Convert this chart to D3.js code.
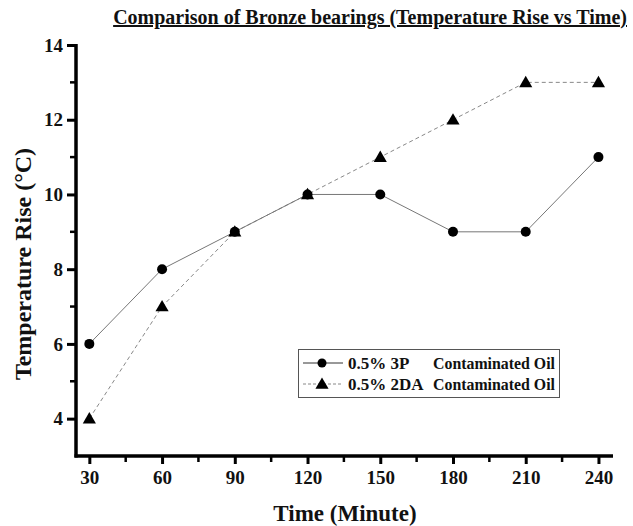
<!DOCTYPE html>
<html>
<head>
<meta charset="utf-8">
<script src="https://cdn.jsdelivr.net/npm/d3@7"></script>
<style>
  body { margin: 0; background: #fff; }
  .lbl { font-family: "Liberation Serif", "Times New Roman", serif; font-weight: bold; fill: #111; }
  .axis path { stroke: #000; stroke-width: 3.5px; }
  .axis line { stroke: #000; stroke-width: 3px; }
  .axis text { font-family: "Liberation Serif", serif; font-weight: bold; font-size: 19px; fill: #111; }
  .minor { stroke: #000; stroke-width: 2.5px; }
</style>
</head>
<body>
<svg id="chart" width="633" height="526"></svg>
<script>
// data
var times = [30, 60, 90, 120, 150, 180, 210, 240];
var oil3P = [6, 8, 9, 10, 10, 9, 9, 11];
var oil2DA = [4, 7, 9, 10, 11, 12, 13, 13];
var yTicks = [4, 6, 8, 10, 12, 14];
var legendNames = ["0.5% 3P", "0.5% 2DA"];

var svg = d3.select("#chart");

var x = d3.scaleLinear().domain([24.5, 246]).range([76, 613]);
var y = d3.scaleLinear().domain([3, 14]).range([456, 45]);

// title
svg.append("text").attr("class", "lbl")
    .attr("x", 627).attr("y", 24)
    .attr("text-anchor", "end")
    .style("font-size", "20px")
    .style("text-decoration", "underline")
    .text("Comparison of Bronze bearings (Temperature Rise vs Time)");

// minor ticks
var minorX = d3.range(45, 241, 30);
svg.append("g").selectAll("line").data(minorX).join("line")
    .attr("class", "minor")
    .attr("x1", d => x(d)).attr("x2", d => x(d))
    .attr("y1", 456).attr("y2", 462);
var minorY = d3.range(5, 14, 2);
svg.append("g").selectAll("line").data(minorY).join("line")
    .attr("class", "minor")
    .attr("x1", 76).attr("x2", 70)
    .attr("y1", d => y(d)).attr("y2", d => y(d));

var xAxis = d3.axisBottom(x).tickValues(times).tickSize(8).tickPadding(7).tickSizeOuter(0);
var yAxis = d3.axisLeft(y).tickValues(yTicks).tickSize(9).tickPadding(4).tickSizeOuter(0);

var gx = svg.append("g").attr("class", "axis").attr("transform", "translate(0,456)").call(xAxis);
var gy = svg.append("g").attr("class", "axis").attr("transform", "translate(76,0)").call(yAxis);

// axis lines run slightly past the range
gx.select(".domain").attr("d", "M74.5,0H613");
gy.select(".domain").attr("d", "M0,457.5V44");

// axis titles
svg.append("text").attr("class", "lbl")
    .attr("x", 345).attr("y", 521)
    .attr("text-anchor", "middle")
    .style("font-size", "23px")
    .text("Time (Minute)");
svg.append("text").attr("class", "lbl")
    .attr("transform", "translate(31,264) rotate(-90)")
    .attr("text-anchor", "middle")
    .style("font-size", "24px")
    .text("Temperature Rise (°C)");

var line = d3.line().x((d, i) => x(times[i])).y(d => y(d));

svg.append("path").datum(oil2DA)
    .attr("d", line).attr("fill", "none")
    .attr("stroke", "#888").attr("stroke-width", 1).attr("stroke-dasharray", "4,3");
svg.append("path").datum(oil3P)
    .attr("d", line).attr("fill", "none")
    .attr("stroke", "#777").attr("stroke-width", 1);

var tri = d3.symbol().type(d3.symbolTriangle).size(75);
svg.append("g").selectAll("path").data(oil2DA).join("path")
    .attr("transform", (d, i) => "translate(" + x(times[i]) + "," + (y(d) + 1) + ")")
    .attr("d", tri).attr("fill", "#000");
svg.append("g").selectAll("circle").data(oil3P).join("circle")
    .attr("cx", (d, i) => x(times[i])).attr("cy", d => y(d))
    .attr("r", 5).attr("fill", "#000");

// legend
var lg = svg.append("g");
lg.append("rect").attr("x", 298.5).attr("y", 349.5).attr("width", 261).attr("height", 48)
    .attr("fill", "#fff").attr("stroke", "#555").attr("stroke-width", 1);
var rows = [363, 384];
legendNames.forEach(function (name, i) {
    var ry = rows[i];
    lg.append("line").attr("x1", 303).attr("x2", 343).attr("y1", ry).attr("y2", ry)
        .attr("stroke", i === 0 ? "#333" : "#888").attr("stroke-width", 1)
        .attr("stroke-dasharray", i === 0 ? null : "3,2");
    if (i === 0) {
        lg.append("circle").attr("cx", 322).attr("cy", ry).attr("r", 4.5).attr("fill", "#000");
    } else {
        lg.append("path").attr("transform", "translate(322," + (ry + 1) + ")")
            .attr("d", tri).attr("fill", "#000");
    }
    lg.append("text").attr("class", "lbl").attr("x", 348).attr("y", ry + 6)
        .style("font-size", "17px").text(name);
    lg.append("text").attr("class", "lbl").attr("x", 433).attr("y", ry + 6)
        .attr("textLength", 122).attr("lengthAdjust", "spacingAndGlyphs")
        .style("font-size", "17px").text("Contaminated Oil");
});
</script>
</body>
</html>
